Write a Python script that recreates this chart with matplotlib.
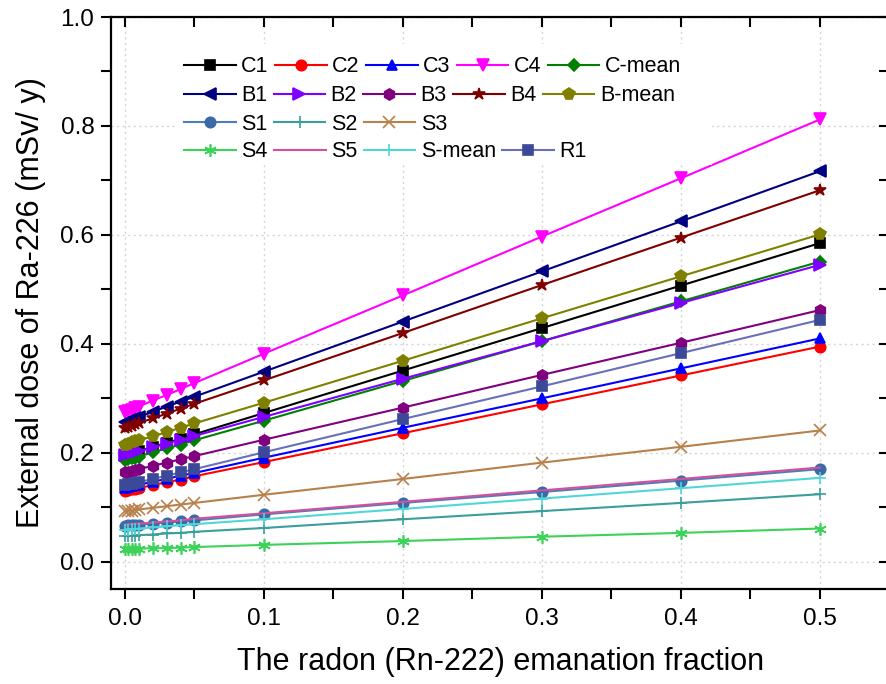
import matplotlib
matplotlib.use("Agg")
import matplotlib.pyplot as plt
from matplotlib.patches import Rectangle
from matplotlib.ticker import MultipleLocator

plt.rcParams['font.family'] = ['Liberation Sans', 'DejaVu Sans']

x = [0, 0.0025, 0.005, 0.0075, 0.01, 0.02, 0.03, 0.04, 0.05, 0.1, 0.2, 0.3, 0.4, 0.5]

C1 = [0.195, 0.197, 0.199, 0.201, 0.203, 0.211, 0.218, 0.226, 0.234, 0.273, 0.351, 0.429, 0.507, 0.585]
C2 = [0.130, 0.131, 0.133, 0.134, 0.135, 0.141, 0.146, 0.151, 0.157, 0.183, 0.236, 0.289, 0.342, 0.395]
C3 = [0.136, 0.137, 0.139, 0.140, 0.141, 0.147, 0.152, 0.158, 0.163, 0.191, 0.246, 0.300, 0.355, 0.410]
C4 = [0.274, 0.277, 0.279, 0.282, 0.285, 0.296, 0.306, 0.317, 0.328, 0.382, 0.489, 0.597, 0.704, 0.812]
C_mean = [0.186, 0.188, 0.190, 0.191, 0.193, 0.201, 0.208, 0.215, 0.223, 0.259, 0.332, 0.405, 0.478, 0.551]
B1 = [0.257, 0.259, 0.262, 0.264, 0.266, 0.275, 0.285, 0.294, 0.303, 0.349, 0.441, 0.533, 0.625, 0.717]
B2 = [0.196, 0.198, 0.199, 0.201, 0.203, 0.210, 0.217, 0.224, 0.231, 0.266, 0.336, 0.405, 0.475, 0.545]
B3 = [0.164, 0.165, 0.167, 0.168, 0.170, 0.176, 0.182, 0.188, 0.194, 0.224, 0.283, 0.343, 0.402, 0.462]
B4 = [0.246, 0.248, 0.250, 0.253, 0.255, 0.263, 0.272, 0.281, 0.290, 0.333, 0.420, 0.508, 0.595, 0.682]
B_mean = [0.215, 0.217, 0.219, 0.221, 0.223, 0.230, 0.238, 0.246, 0.254, 0.292, 0.369, 0.447, 0.524, 0.601]
S1 = [0.066, 0.067, 0.067, 0.068, 0.068, 0.070, 0.072, 0.074, 0.076, 0.087, 0.108, 0.128, 0.149, 0.170]
S2 = [0.047, 0.047, 0.048, 0.048, 0.049, 0.050, 0.052, 0.053, 0.055, 0.062, 0.078, 0.093, 0.108, 0.124]
S3 = [0.093, 0.094, 0.094, 0.095, 0.096, 0.099, 0.102, 0.105, 0.108, 0.123, 0.152, 0.182, 0.211, 0.241]
S4 = [0.023, 0.023, 0.023, 0.024, 0.024, 0.025, 0.025, 0.026, 0.027, 0.031, 0.038, 0.046, 0.053, 0.061]
S5 = [0.068, 0.069, 0.069, 0.070, 0.070, 0.072, 0.074, 0.076, 0.079, 0.089, 0.110, 0.131, 0.152, 0.173]
S_mean = [0.059, 0.059, 0.060, 0.060, 0.061, 0.063, 0.065, 0.067, 0.069, 0.078, 0.097, 0.116, 0.135, 0.154]
R1 = [0.140, 0.142, 0.143, 0.145, 0.146, 0.152, 0.158, 0.164, 0.170, 0.201, 0.262, 0.322, 0.383, 0.444]

# (label, data, line colour, marker, marker colour, marker size)
series = [
    ("C1", C1, "#000000", "s", "#000000", 7),
    ("C2", C2, "#FF0000", "o", "#FF0000", 7.5),
    ("C3", C3, "#0000FF", "^", "#0000FF", 7.5),
    ("C4", C4, "#FF00FF", "v", "#FF00FF", 8),
    ("C-mean", C_mean, "#008000", "D", "#008000", 6.5),
    ("B1", B1, "#000080", "<", "#000080", 8),
    ("B2", B2, "#8000FF", ">", "#8000FF", 8),
    ("B3", B3, "#800080", "h", "#800080", 8),
    ("B4", B4, "#800000", "*", "#800000", 9),
    ("B-mean", B_mean, "#808000", "p", "#808000", 8.5),
    ("S1", S1, "#4A7EBB", "o", "#3A6AA8", 7.5),
    ("S2", S2, "#3A9E9A", "+", "#3A9E9A", 9),
    ("S3", S3, "#B8804A", "x", "#B8804A", 8),
    ("S4", S4, "#3CD25A", (6, 2, 0), "#3CD25A", 9),
    ("S5", S5, "#D5509A", "None", "#D5509A", 7),
    ("S-mean", S_mean, "#4FD6D6", "+", "#4FD6D6", 9),
    ("R1", R1, "#6870B8", "s", "#3C4898", 7),
]

W, H = 887, 684
fig = plt.figure(figsize=(W / 100, H / 100), dpi=100)
ax = fig.add_axes([111 / W, (H - 589) / H, 778.5 / W, 572 / H])

handles = {}
for lab, data, col, mk, mcol, ms in series:
    ln, = ax.plot(x, data, color=col, lw=1.5, marker=mk, markersize=ms,
                  markerfacecolor=mcol, markeredgecolor=mcol, markeredgewidth=1.2,
                  label=lab, zorder=3)
    handles[lab] = ln

ax.set_xlim(-0.01, 0.55)
ax.set_ylim(-0.05, 1.0)
ax.xaxis.set_minor_locator(MultipleLocator(0.05))
ax.yaxis.set_minor_locator(MultipleLocator(0.1))
ax.set_xticks([0.0, 0.1, 0.2, 0.3, 0.4, 0.5])
ax.set_xticklabels(["0.0", "0.1", "0.2", "0.3", "0.4", "0.5"])
ax.set_yticks([0.0, 0.2, 0.4, 0.6, 0.8, 1.0])
ax.set_yticklabels(["0.0", "0.2", "0.4", "0.6", "0.8", "1.0"])

ax.grid(True, which='major', color='#d4d4d4', linestyle=(0, (1.5, 2.5)), linewidth=1.0, zorder=0)
ax.set_axisbelow(True)

for s in ax.spines.values():
    s.set_linewidth(1.6)

ax.tick_params(axis='both', which='both', labelsize=17.5, width=1.5, length=7, pad=5)
ax.tick_params(axis='x', which='both', direction='out', top=True, pad=7)
ax.tick_params(axis='y', which='both', direction='out', right=True)
# top / right ticks point inward
for t in ax.xaxis.get_major_ticks() + ax.xaxis.get_minor_ticks():
    t.tick2line.set_marker(3)  # TICKDOWN
for t in ax.yaxis.get_major_ticks() + ax.yaxis.get_minor_ticks():
    t.tick2line.set_marker(0)  # TICKLEFT

ax.set_xlabel("The radon (Rn-222) emanation fraction", fontsize=22, labelpad=12)
ax.set_ylabel("External dose of Ra-226 (mSv/ y)", fontsize=22, labelpad=10)

# white background behind legend
bg = Rectangle((0.082, 0.741), 0.69, 0.212, transform=ax.transAxes,
               facecolor='white', edgecolor='none', zorder=4)
ax.add_patch(bg)

rows = [
    ["C1", "C2", "C3", "C4", "C-mean"],
    ["B1", "B2", "B3", "B4", "B-mean"],
    ["S1", "S2", "S3"],
    ["S4", "S5", "S-mean", "R1"],
]
row_y = [0.9126, 0.8619, 0.8129, 0.764]
legs = []
for labs, yy in zip(rows, row_y):
    leg = ax.legend([handles[l] for l in labs], labs, ncol=len(labs), loc='center left',
                    bbox_to_anchor=(0.0938, yy), frameon=False, fontsize=15.5,
                    handlelength=2.4, handletextpad=0.25, columnspacing=0.3,
                    borderpad=0, borderaxespad=0, numpoints=1)
    leg.set_zorder(5)
    legs.append(leg)
for leg in legs[:-1]:
    ax.add_artist(leg)

fig.savefig("out.png", dpi=100)
